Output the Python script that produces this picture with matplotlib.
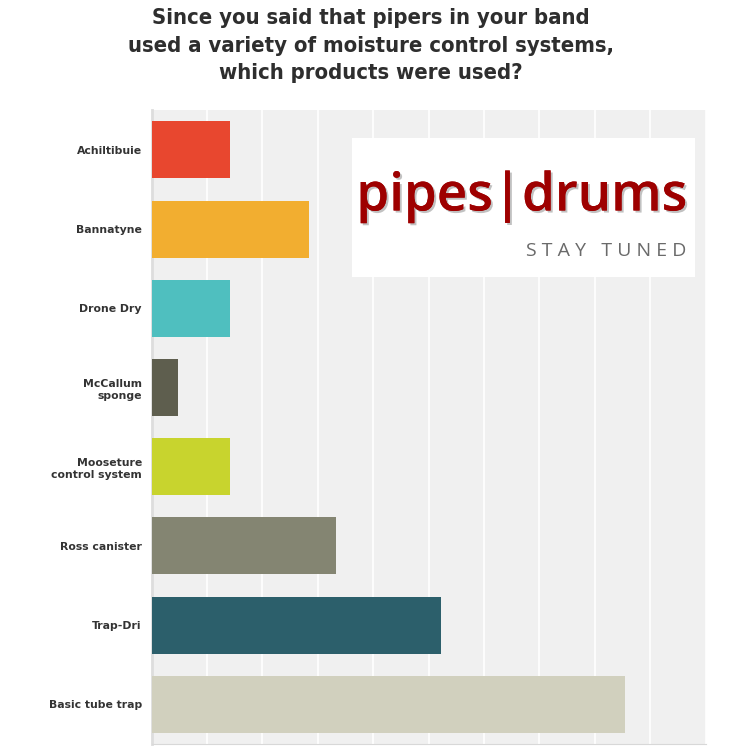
import matplotlib
matplotlib.use("Agg")
import matplotlib.pyplot as plt
import matplotlib.patheffects as pe
from matplotlib.patches import Rectangle

categories = ["Achiltibuie", "Bannatyne", "Drone Dry", "McCallum\nsponge",
              "Mooseture\ncontrol system", "Ross canister", "Trap-Dri", "Basic tube trap"]
values = [5.7, 11.4, 5.7, 1.9, 5.7, 13.3, 20.9, 34.2]
colors = ["#E8472F", "#F2AE30", "#4FBFBF", "#5E5E4E", "#C8D42E", "#848572", "#2C5F6B", "#D1D0BE"]
title = ("Since you said that pipers in your band\n"
         "used a variety of moisture control systems,\n"
         "which products were used?")

fig = plt.figure(figsize=(7.5, 7.5), dpi=100)
fig.patch.set_facecolor("white")
ax = fig.add_axes([0.202, 0.008, 0.739, 0.845])
ax.set_facecolor("#F0F0F0")

y = list(range(len(categories)))
ax.barh(y, values, height=0.72, color=colors, zorder=3)
ax.set_ylim(len(categories) - 0.5, -0.5)
ax.set_xlim(0, 40)
ax.set_xticks(range(0, 41, 4))
ax.xaxis.grid(True, color="white", linewidth=1.2, zorder=1)
ax.tick_params(axis="x", length=0, labelbottom=False)
ax.tick_params(axis="y", length=0, pad=7)
ax.set_yticks(y)
ax.set_yticklabels(categories, fontsize=7.8, fontweight="bold", color="#333333",
                   family=["DejaVu Sans"], linespacing=1.25)
for s in ["top", "right"]:
    ax.spines[s].set_visible(False)
ax.spines["left"].set_color("#DDDDDD")
ax.spines["bottom"].set_color("#D8D8D8")
ax.spines["left"].set_linewidth(2)

fig.text(0.494, 1 - 45.5 / 750, title, ha="center", va="center", fontsize=15.8, fontweight="bold",
         fontstretch="condensed", color="#2E2E2E",
         family=["Liberation Sans Narrow", "DejaVu Sans"], linespacing=1.48)

# logo box
box = Rectangle((352 / 750, 1 - 277 / 750), (695 - 352) / 750, (277 - 138) / 750,
                transform=fig.transFigure, facecolor="white", edgecolor="none", zorder=10)
fig.patches.append(box)
fig.text(0.9165, 1 - 197 / 750, "pipes|drums", ha="right", va="center", fontsize=38,
         fontweight="semibold", color="#9E0000", family=["Open Sans", "DejaVu Sans"], zorder=11,
         path_effects=[pe.withSimplePatchShadow(offset=(1.5, -1.5), shadow_rgbFace="#777777", alpha=0.45),
                       pe.Normal()])
fig.text(0.9145, 1 - 251 / 750, "S T A Y   T U N E D", ha="right", va="center", fontsize=14,
         color="#6A6A6A", family=["Open Sans", "DejaVu Sans"], zorder=11)

fig.savefig("out.png", dpi=100, facecolor="white")
